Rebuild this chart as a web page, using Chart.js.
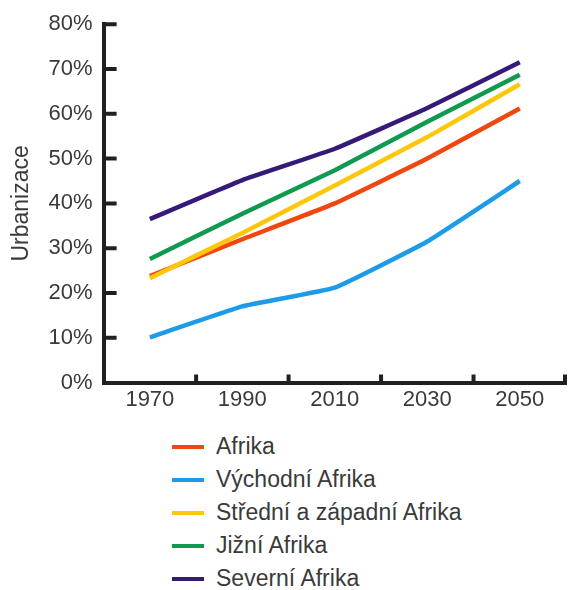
<!DOCTYPE html>
<html>
<head>
<meta charset="utf-8">
<script src="https://cdn.jsdelivr.net/npm/chart.js@4"></script>
<style>
    html, body { margin: 0; padding: 0; background: #fff; }
    #wrap { position: relative; width: 568px; height: 590px; }
    #box { position: absolute; left: 0; top: 0; width: 568px; height: 425px; }
    #legend { position: absolute; left: 172px; top: 430px; margin: 0; padding: 0; list-style: none;
              font-family: "Liberation Sans", Arial, sans-serif; font-size: 23px; color: #3a3a3a; }
    #legend li { height: 33px; line-height: 33px; display: flex; align-items: center; }
    #legend span.sw { display: inline-block; width: 32px; height: 4px; margin-right: 12px; }
</style>
</head>
<body>
<div id="wrap">
    <div id="box"><canvas id="chart"></canvas></div>
    <ul id="legend"></ul>
</div>
<script>
//======================================================================================================================
// Data
//======================================================================================================================

    var years = ['1970', '1990', '2010', '2030', '2050'];

    var afrika    = [23.8, 32.0, 40.0, 50.0, 61.2];
    var vychodni  = [10.1, 17.0, 21.2, 31.5, 45.0];
    var stredni   = [23.3, 33.4, 44.0, 54.8, 66.6];
    var jizni     = [27.6, 37.7, 47.4, 58.2, 68.7];
    var severni   = [36.5, 45.2, 52.2, 61.3, 71.5];

    var yTicks = [0, 10, 20, 30, 40, 50, 60, 70, 80];

//======================================================================================================================
// Inner tick marks (axis ticks point into the plot)
//======================================================================================================================

    var innerTicks = {
        id: 'innerTicks',
        afterDraw: function(chart) {
            var ctx = chart.ctx;
            var x = chart.scales.x, y = chart.scales.y;
            var area = chart.chartArea;

            ctx.save();
            ctx.strokeStyle = '#231f20';
            ctx.lineWidth = 4;
            ctx.beginPath();

            y.ticks.forEach(function(t, i) {
                if (t.value === 0) return;
                var py = y.getPixelForTick(i);
                ctx.moveTo(area.left, py);
                ctx.lineTo(area.left + 13, py);
            });

            for (var i = 0; i < years.length; i++) {
                var px = (i < years.length - 1)
                    ? (x.getPixelForTick(i) + x.getPixelForTick(i + 1)) / 2
                    : area.right - 1;
                ctx.moveTo(px, area.bottom);
                ctx.lineTo(px, area.bottom - 8);
            }

            ctx.stroke();
            ctx.restore();
        }
    };

//======================================================================================================================
// Chart
//======================================================================================================================

    var font = { family: '"Liberation Sans", Arial, sans-serif', size: 22 };

    function series(label, values, color, order) {
        return {
            label: label,
            data: values,
            borderColor: color,
            backgroundColor: color,
            borderWidth: 4.5,
            pointRadius: 0,
            tension: 0.1,
            order: order
        };
    }

    var chart = new Chart(document.getElementById('chart'), {
        type: 'line',
        data: {
            labels: years,
            datasets: [
                series('Afrika', afrika, '#f0460f', 5),
                series('Východní Afrika', vychodni, '#1c9be9', 4),
                series('Střední a západní Afrika', stredni, '#ffc70c', 3),
                series('Jižní Afrika', jizni, '#109a50', 2),
                series('Severní Afrika', severni, '#361a7a', 1)
            ]
        },
        options: {
            responsive: true,
            maintainAspectRatio: false,
            animation: false,
            layout: { padding: { top: 14, right: 2, left: 0, bottom: 8 } },
            plugins: {
                legend: { display: false },
                tooltip: { enabled: false }
            },
            scales: {
                x: {
                    offset: true,
                    grid: { display: false, offset: true, drawTicks: false },
                    border: { display: true, color: '#231f20', width: 4 },
                    ticks: { color: '#3a3a3a', font: font, padding: 4, maxRotation: 0 }
                },
                y: {
                    min: 0,
                    max: 80,
                    afterBuildTicks: function(scale) {
                        scale.ticks = yTicks.map(function(v) { return { value: v }; });
                    },
                    grid: { display: false, drawTicks: false },
                    border: { display: true, color: '#231f20', width: 4 },
                    ticks: {
                        color: '#3a3a3a',
                        font: font,
                        padding: 11,
                        callback: function(v) { return v + '%'; }
                    },
                    title: {
                        display: true,
                        text: 'Urbanizace',
                        color: '#3a3a3a',
                        font: { family: font.family, size: 23 },
                        padding: { top: 8, bottom: 2 }
                    }
                }
            }
        },
        plugins: [innerTicks]
    });

//======================================================================================================================
// Legend (one item per row, under the plot)
//======================================================================================================================

    var legend = document.getElementById('legend');

    chart.data.datasets.forEach(function(ds) {
        var li = document.createElement('li');
        var sw = document.createElement('span');
        sw.className = 'sw';
        sw.style.background = ds.borderColor;
        li.appendChild(sw);
        li.appendChild(document.createTextNode(ds.label));
        legend.appendChild(li);
    });
</script>
</body>
</html>
